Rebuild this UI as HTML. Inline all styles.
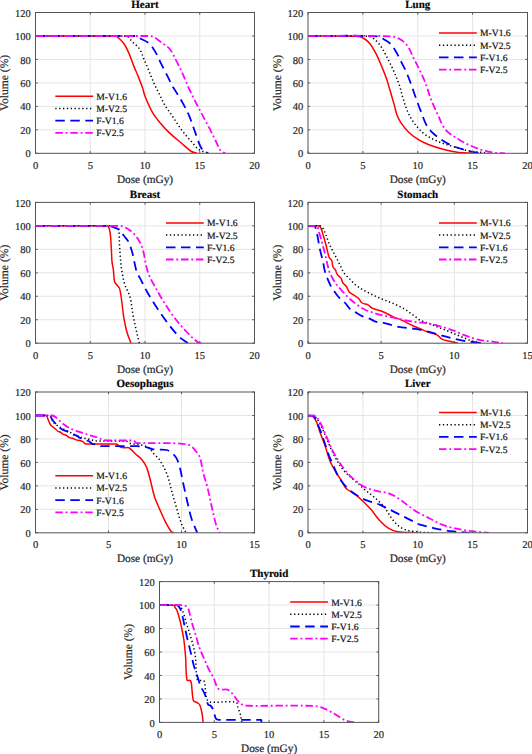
<!DOCTYPE html><html><head><meta charset="utf-8"><style>html,body{margin:0;padding:0;background:#fff;width:532px;height:754px;overflow:hidden}svg{display:block}text{font-family:"Liberation Serif", serif;text-rendering:geometricPrecision;stroke:#262626;stroke-width:0.2px}</style></head><body>
<svg width="532" height="754" viewBox="0 0 532 754">
<rect width="532" height="754" fill="#fff"/>
<line x1="90.25" y1="12.50" x2="90.25" y2="153.30" stroke="#e5e5e5" stroke-width="1"/>
<line x1="145.00" y1="12.50" x2="145.00" y2="153.30" stroke="#e5e5e5" stroke-width="1"/>
<line x1="199.75" y1="12.50" x2="199.75" y2="153.30" stroke="#e5e5e5" stroke-width="1"/>
<line x1="35.50" y1="129.83" x2="254.50" y2="129.83" stroke="#e5e5e5" stroke-width="1"/>
<line x1="35.50" y1="106.37" x2="254.50" y2="106.37" stroke="#e5e5e5" stroke-width="1"/>
<line x1="35.50" y1="82.90" x2="254.50" y2="82.90" stroke="#e5e5e5" stroke-width="1"/>
<line x1="35.50" y1="59.43" x2="254.50" y2="59.43" stroke="#e5e5e5" stroke-width="1"/>
<line x1="35.50" y1="35.97" x2="254.50" y2="35.97" stroke="#e5e5e5" stroke-width="1"/>
<clipPath id="clip_Heart"><rect x="35.50" y="10.50" width="219.00" height="142.80"/></clipPath>
<path d="M35.50,36.00 L114.80,36.00 C116.85,36.08 118.46,37.95 120.00,39.30 C121.72,40.81 123.27,42.57 124.50,44.50 C126.32,47.37 127.75,50.48 129.10,53.60 C130.79,57.52 132.01,61.63 133.60,65.60 C135.01,69.14 136.68,72.57 138.10,76.10 C139.68,80.04 141.22,83.99 142.60,88.00 C143.56,90.79 143.99,93.76 145.10,96.50 C147.33,102.02 149.65,107.53 152.60,112.70 C154.71,116.41 157.45,119.73 160.20,123.00 C163.26,126.65 166.54,130.12 170.00,133.40 C173.59,136.80 177.53,139.81 181.30,143.00 C184.66,145.84 187.72,149.09 191.40,151.50 C193.04,152.58 195.13,152.70 197.00,153.30" fill="none" stroke="#ff0000" stroke-width="1.50" stroke-linejoin="round" clip-path="url(#clip_Heart)"/>
<path d="M35.50,36.00 L126.00,36.00 C128.71,36.15 130.04,39.63 132.00,41.50 C134.57,43.96 137.62,46.04 139.60,49.00 C141.73,52.19 142.59,56.07 144.10,59.60 C145.59,63.10 147.13,66.59 148.60,70.10 C150.60,74.89 152.37,79.77 154.50,84.50 C156.24,88.35 158.32,92.02 160.20,95.80 C161.75,98.92 163.01,102.20 164.80,105.20 C166.76,108.49 169.25,111.43 171.40,114.60 C174.75,119.53 177.73,124.72 181.30,129.50 C184.81,134.20 188.71,138.61 192.60,143.00 C194.71,145.38 196.58,148.14 199.30,149.80 C202.37,151.67 206.10,152.13 209.50,153.30" fill="none" stroke="#000000" stroke-width="1.50" stroke-dasharray="1.3 2.55" stroke-linejoin="round" clip-path="url(#clip_Heart)"/>
<path d="M35.50,36.00 L135.00,36.00 C136.95,36.05 138.56,37.61 140.30,38.50 C143.10,39.94 146.20,40.97 148.60,43.00 C151.06,45.08 152.91,47.85 154.60,50.60 C156.94,54.41 158.59,58.61 160.60,62.60 C162.62,66.61 164.68,70.59 166.70,74.60 C168.71,78.59 170.58,82.66 172.70,86.60 C173.55,88.17 174.67,89.58 175.60,91.10 C177.90,94.85 180.29,98.55 182.40,102.40 C184.82,106.82 187.22,111.26 189.20,115.90 C191.57,121.45 193.32,127.24 195.40,132.90 C197.05,137.40 198.37,142.05 200.40,146.40 C201.20,148.10 202.38,149.66 203.80,150.90 C205.08,152.02 206.80,152.50 208.30,153.30" fill="none" stroke="#0000ff" stroke-width="1.80" stroke-dasharray="9.5 5.5" stroke-linejoin="round" clip-path="url(#clip_Heart)"/>
<path d="M35.50,36.00 L150.10,36.00 C154.72,36.26 158.24,40.44 162.10,43.00 C164.79,44.78 167.65,46.50 169.70,49.00 C172.27,52.14 173.80,56.01 175.70,59.60 C177.80,63.55 179.83,67.54 181.70,71.60 C184.50,77.67 186.86,83.94 189.70,90.00 C192.73,96.48 196.02,102.84 199.30,109.20 C202.22,114.87 205.36,120.44 208.30,126.10 C210.62,130.57 212.83,135.10 215.10,139.60 C217.00,143.37 218.28,147.52 220.80,150.90 C221.82,152.26 223.80,152.50 225.30,153.30" fill="none" stroke="#ff00ff" stroke-width="1.80" stroke-dasharray="7.5 2.8 1.9 2.8" stroke-linejoin="round" clip-path="url(#clip_Heart)"/>
<rect x="35.50" y="12.50" width="219.00" height="140.80" fill="none" stroke="#555555" stroke-width="1"/>
<line x1="35.50" y1="153.30" x2="35.50" y2="151.10" stroke="#555555" stroke-width="1"/>
<line x1="35.50" y1="12.50" x2="35.50" y2="14.70" stroke="#555555" stroke-width="1"/>
<text x="35.50" y="168.60" font-size="10.50" fill="#262626" text-anchor="middle">0</text>
<line x1="90.25" y1="153.30" x2="90.25" y2="151.10" stroke="#555555" stroke-width="1"/>
<line x1="90.25" y1="12.50" x2="90.25" y2="14.70" stroke="#555555" stroke-width="1"/>
<text x="90.25" y="168.60" font-size="10.50" fill="#262626" text-anchor="middle">5</text>
<line x1="145.00" y1="153.30" x2="145.00" y2="151.10" stroke="#555555" stroke-width="1"/>
<line x1="145.00" y1="12.50" x2="145.00" y2="14.70" stroke="#555555" stroke-width="1"/>
<text x="145.00" y="168.60" font-size="10.50" fill="#262626" text-anchor="middle">10</text>
<line x1="199.75" y1="153.30" x2="199.75" y2="151.10" stroke="#555555" stroke-width="1"/>
<line x1="199.75" y1="12.50" x2="199.75" y2="14.70" stroke="#555555" stroke-width="1"/>
<text x="199.75" y="168.60" font-size="10.50" fill="#262626" text-anchor="middle">15</text>
<line x1="254.50" y1="153.30" x2="254.50" y2="151.10" stroke="#555555" stroke-width="1"/>
<line x1="254.50" y1="12.50" x2="254.50" y2="14.70" stroke="#555555" stroke-width="1"/>
<text x="254.50" y="168.60" font-size="10.50" fill="#262626" text-anchor="middle">20</text>
<line x1="35.50" y1="153.30" x2="37.70" y2="153.30" stroke="#555555" stroke-width="1"/>
<line x1="254.50" y1="153.30" x2="252.30" y2="153.30" stroke="#555555" stroke-width="1"/>
<text x="30.70" y="157.40" font-size="10.50" fill="#262626" text-anchor="end">0</text>
<line x1="35.50" y1="129.83" x2="37.70" y2="129.83" stroke="#555555" stroke-width="1"/>
<line x1="254.50" y1="129.83" x2="252.30" y2="129.83" stroke="#555555" stroke-width="1"/>
<text x="30.70" y="133.93" font-size="10.50" fill="#262626" text-anchor="end">20</text>
<line x1="35.50" y1="106.37" x2="37.70" y2="106.37" stroke="#555555" stroke-width="1"/>
<line x1="254.50" y1="106.37" x2="252.30" y2="106.37" stroke="#555555" stroke-width="1"/>
<text x="30.70" y="110.47" font-size="10.50" fill="#262626" text-anchor="end">40</text>
<line x1="35.50" y1="82.90" x2="37.70" y2="82.90" stroke="#555555" stroke-width="1"/>
<line x1="254.50" y1="82.90" x2="252.30" y2="82.90" stroke="#555555" stroke-width="1"/>
<text x="30.70" y="87.00" font-size="10.50" fill="#262626" text-anchor="end">60</text>
<line x1="35.50" y1="59.43" x2="37.70" y2="59.43" stroke="#555555" stroke-width="1"/>
<line x1="254.50" y1="59.43" x2="252.30" y2="59.43" stroke="#555555" stroke-width="1"/>
<text x="30.70" y="63.53" font-size="10.50" fill="#262626" text-anchor="end">80</text>
<line x1="35.50" y1="35.97" x2="37.70" y2="35.97" stroke="#555555" stroke-width="1"/>
<line x1="254.50" y1="35.97" x2="252.30" y2="35.97" stroke="#555555" stroke-width="1"/>
<text x="30.70" y="40.07" font-size="10.50" fill="#262626" text-anchor="end">100</text>
<line x1="35.50" y1="12.50" x2="37.70" y2="12.50" stroke="#555555" stroke-width="1"/>
<line x1="254.50" y1="12.50" x2="252.30" y2="12.50" stroke="#555555" stroke-width="1"/>
<text x="30.70" y="16.60" font-size="10.50" fill="#262626" text-anchor="end">120</text>
<text x="145.00" y="182.90" font-size="11.30" fill="#262626" text-anchor="middle">Dose (mGy)</text>
<text transform="translate(8.30,82.90) rotate(-90)" font-size="11.60" fill="#262626" text-anchor="middle">Volume (%)</text>
<text x="145.00" y="7.80" font-size="11.00" fill="#000" font-weight="bold" text-anchor="middle">Heart</text>
<line x1="55.30" y1="96.30" x2="93.10" y2="96.30" stroke="#ff0000" stroke-width="1.50"/>
<text x="96.30" y="99.70" font-size="9.60" fill="#000">M-V1.6</text>
<line x1="55.30" y1="108.50" x2="93.10" y2="108.50" stroke="#000000" stroke-width="1.50" stroke-dasharray="1.3 2.55"/>
<text x="96.30" y="111.90" font-size="9.60" fill="#000">M-V2.5</text>
<line x1="55.30" y1="120.70" x2="93.10" y2="120.70" stroke="#0000ff" stroke-width="1.80" stroke-dasharray="9.5 5.5"/>
<text x="96.30" y="124.10" font-size="9.60" fill="#000">F-V1.6</text>
<line x1="55.30" y1="132.90" x2="93.10" y2="132.90" stroke="#ff00ff" stroke-width="1.80" stroke-dasharray="7.5 2.8 1.9 2.8"/>
<text x="96.30" y="136.30" font-size="9.60" fill="#000">F-V2.5</text>
<line x1="362.88" y1="12.50" x2="362.88" y2="153.30" stroke="#e5e5e5" stroke-width="1"/>
<line x1="417.75" y1="12.50" x2="417.75" y2="153.30" stroke="#e5e5e5" stroke-width="1"/>
<line x1="472.62" y1="12.50" x2="472.62" y2="153.30" stroke="#e5e5e5" stroke-width="1"/>
<line x1="308.00" y1="129.83" x2="527.50" y2="129.83" stroke="#e5e5e5" stroke-width="1"/>
<line x1="308.00" y1="106.37" x2="527.50" y2="106.37" stroke="#e5e5e5" stroke-width="1"/>
<line x1="308.00" y1="82.90" x2="527.50" y2="82.90" stroke="#e5e5e5" stroke-width="1"/>
<line x1="308.00" y1="59.43" x2="527.50" y2="59.43" stroke="#e5e5e5" stroke-width="1"/>
<line x1="308.00" y1="35.97" x2="527.50" y2="35.97" stroke="#e5e5e5" stroke-width="1"/>
<clipPath id="clip_Lung"><rect x="308.00" y="10.50" width="219.50" height="142.80"/></clipPath>
<path d="M308.00,36.10 C324.17,36.17 340.35,35.61 356.50,36.30 C359.10,36.41 361.72,37.23 364.00,38.50 C366.33,39.80 368.34,41.71 370.00,43.80 C372.38,46.80 374.25,50.19 376.00,53.60 C378.25,57.98 380.11,62.55 382.00,67.10 C383.64,71.06 385.21,75.05 386.60,79.10 C387.98,83.12 389.09,87.23 390.30,91.30 C391.59,95.66 392.87,100.02 394.10,104.40 C395.07,107.86 395.66,111.43 396.90,114.80 C397.87,117.43 399.14,119.97 400.70,122.30 C402.93,125.63 405.37,128.87 408.20,131.70 C411.03,134.53 414.21,137.06 417.60,139.20 C421.15,141.45 424.99,143.27 428.90,144.80 C433.78,146.71 438.82,148.21 443.90,149.50 C448.84,150.75 453.85,151.73 458.90,152.40 C463.40,153.00 467.97,153.00 472.50,153.30" fill="none" stroke="#ff0000" stroke-width="1.50" stroke-linejoin="round" clip-path="url(#clip_Lung)"/>
<path d="M308.00,36.10 C328.17,36.17 348.36,35.33 368.50,36.30 C370.73,36.41 372.76,37.90 374.50,39.30 C376.86,41.19 378.87,43.53 380.60,46.00 C382.93,49.33 384.70,53.01 386.60,56.60 C388.70,60.55 390.71,64.55 392.60,68.60 C394.21,72.05 395.69,75.56 397.10,79.10 C398.19,81.83 399.23,84.59 400.10,87.40 C401.07,90.53 401.61,93.78 402.60,96.90 C404.31,102.29 405.82,107.78 408.20,112.90 C410.21,117.23 412.76,121.34 415.70,125.10 C418.43,128.59 421.53,131.87 425.10,134.50 C429.04,137.40 433.51,139.57 438.00,141.50 C442.84,143.58 447.97,144.94 453.00,146.50 C457.64,147.94 462.23,149.59 467.00,150.50 C474.10,151.86 481.33,152.37 488.50,153.30" fill="none" stroke="#000000" stroke-width="1.50" stroke-dasharray="1.3 2.55" stroke-linejoin="round" clip-path="url(#clip_Lung)"/>
<path d="M308.00,36.10 C331.20,36.17 354.43,35.13 377.60,36.30 C380.38,36.44 382.72,38.55 385.10,40.00 C387.24,41.30 389.45,42.63 391.10,44.50 C393.50,47.22 395.28,50.46 397.10,53.60 C398.78,56.50 400.10,59.60 401.60,62.60 C403.10,65.60 404.76,68.52 406.10,71.60 C408.03,76.03 409.72,80.57 411.40,85.10 C412.62,88.37 413.62,91.72 414.80,95.00 C416.62,100.05 418.44,105.10 420.40,110.10 C422.51,115.47 424.11,121.10 427.00,126.10 C428.88,129.35 431.71,131.99 434.50,134.50 C437.21,136.95 440.33,138.91 443.40,140.90 C445.94,142.55 448.51,144.23 451.30,145.40 C455.67,147.24 460.25,148.55 464.80,149.90 C467.76,150.78 470.78,151.45 473.80,152.10 C476.05,152.58 478.33,152.90 480.60,153.30" fill="none" stroke="#0000ff" stroke-width="1.80" stroke-dasharray="9.5 5.5" stroke-linejoin="round" clip-path="url(#clip_Lung)"/>
<path d="M308.00,36.10 C335.70,36.17 363.42,35.34 391.10,36.30 C394.26,36.41 397.37,37.70 400.10,39.30 C402.99,41.00 405.64,43.28 407.60,46.00 C410.23,49.66 411.58,54.08 413.60,58.10 C415.61,62.11 417.75,66.06 419.70,70.10 C421.28,73.36 422.80,76.66 424.20,80.00 C425.30,82.63 426.26,85.31 427.20,88.00 C428.46,91.58 429.39,95.28 430.80,98.80 C433.09,104.52 435.70,110.11 438.30,115.70 C440.37,120.15 441.73,125.07 444.80,128.90 C447.78,132.62 452.04,135.14 456.00,137.80 C459.80,140.36 463.85,142.55 468.00,144.50 C472.54,146.63 477.20,148.56 482.00,150.00 C486.70,151.41 491.55,152.30 496.40,153.00 C499.24,153.41 502.13,153.20 505.00,153.30" fill="none" stroke="#ff00ff" stroke-width="1.80" stroke-dasharray="7.5 2.8 1.9 2.8" stroke-linejoin="round" clip-path="url(#clip_Lung)"/>
<rect x="308.00" y="12.50" width="219.50" height="140.80" fill="none" stroke="#555555" stroke-width="1"/>
<line x1="308.00" y1="153.30" x2="308.00" y2="151.10" stroke="#555555" stroke-width="1"/>
<line x1="308.00" y1="12.50" x2="308.00" y2="14.70" stroke="#555555" stroke-width="1"/>
<text x="308.00" y="168.60" font-size="10.50" fill="#262626" text-anchor="middle">0</text>
<line x1="362.88" y1="153.30" x2="362.88" y2="151.10" stroke="#555555" stroke-width="1"/>
<line x1="362.88" y1="12.50" x2="362.88" y2="14.70" stroke="#555555" stroke-width="1"/>
<text x="362.88" y="168.60" font-size="10.50" fill="#262626" text-anchor="middle">5</text>
<line x1="417.75" y1="153.30" x2="417.75" y2="151.10" stroke="#555555" stroke-width="1"/>
<line x1="417.75" y1="12.50" x2="417.75" y2="14.70" stroke="#555555" stroke-width="1"/>
<text x="417.75" y="168.60" font-size="10.50" fill="#262626" text-anchor="middle">10</text>
<line x1="472.62" y1="153.30" x2="472.62" y2="151.10" stroke="#555555" stroke-width="1"/>
<line x1="472.62" y1="12.50" x2="472.62" y2="14.70" stroke="#555555" stroke-width="1"/>
<text x="472.62" y="168.60" font-size="10.50" fill="#262626" text-anchor="middle">15</text>
<line x1="527.50" y1="153.30" x2="527.50" y2="151.10" stroke="#555555" stroke-width="1"/>
<line x1="527.50" y1="12.50" x2="527.50" y2="14.70" stroke="#555555" stroke-width="1"/>
<text x="527.50" y="168.60" font-size="10.50" fill="#262626" text-anchor="middle">20</text>
<line x1="308.00" y1="153.30" x2="310.20" y2="153.30" stroke="#555555" stroke-width="1"/>
<line x1="527.50" y1="153.30" x2="525.30" y2="153.30" stroke="#555555" stroke-width="1"/>
<text x="303.20" y="157.40" font-size="10.50" fill="#262626" text-anchor="end">0</text>
<line x1="308.00" y1="129.83" x2="310.20" y2="129.83" stroke="#555555" stroke-width="1"/>
<line x1="527.50" y1="129.83" x2="525.30" y2="129.83" stroke="#555555" stroke-width="1"/>
<text x="303.20" y="133.93" font-size="10.50" fill="#262626" text-anchor="end">20</text>
<line x1="308.00" y1="106.37" x2="310.20" y2="106.37" stroke="#555555" stroke-width="1"/>
<line x1="527.50" y1="106.37" x2="525.30" y2="106.37" stroke="#555555" stroke-width="1"/>
<text x="303.20" y="110.47" font-size="10.50" fill="#262626" text-anchor="end">40</text>
<line x1="308.00" y1="82.90" x2="310.20" y2="82.90" stroke="#555555" stroke-width="1"/>
<line x1="527.50" y1="82.90" x2="525.30" y2="82.90" stroke="#555555" stroke-width="1"/>
<text x="303.20" y="87.00" font-size="10.50" fill="#262626" text-anchor="end">60</text>
<line x1="308.00" y1="59.43" x2="310.20" y2="59.43" stroke="#555555" stroke-width="1"/>
<line x1="527.50" y1="59.43" x2="525.30" y2="59.43" stroke="#555555" stroke-width="1"/>
<text x="303.20" y="63.53" font-size="10.50" fill="#262626" text-anchor="end">80</text>
<line x1="308.00" y1="35.97" x2="310.20" y2="35.97" stroke="#555555" stroke-width="1"/>
<line x1="527.50" y1="35.97" x2="525.30" y2="35.97" stroke="#555555" stroke-width="1"/>
<text x="303.20" y="40.07" font-size="10.50" fill="#262626" text-anchor="end">100</text>
<line x1="308.00" y1="12.50" x2="310.20" y2="12.50" stroke="#555555" stroke-width="1"/>
<line x1="527.50" y1="12.50" x2="525.30" y2="12.50" stroke="#555555" stroke-width="1"/>
<text x="303.20" y="16.60" font-size="10.50" fill="#262626" text-anchor="end">120</text>
<text x="417.75" y="182.90" font-size="11.30" fill="#262626" text-anchor="middle">Dose (mGy)</text>
<text transform="translate(280.80,82.90) rotate(-90)" font-size="11.60" fill="#262626" text-anchor="middle">Volume (%)</text>
<text x="417.75" y="7.80" font-size="11.00" fill="#000" font-weight="bold" text-anchor="middle">Lung</text>
<line x1="439.00" y1="33.00" x2="476.80" y2="33.00" stroke="#ff0000" stroke-width="1.50"/>
<text x="480.00" y="36.40" font-size="9.60" fill="#000">M-V1.6</text>
<line x1="439.00" y1="45.20" x2="476.80" y2="45.20" stroke="#000000" stroke-width="1.50" stroke-dasharray="1.3 2.55"/>
<text x="480.00" y="48.60" font-size="9.60" fill="#000">M-V2.5</text>
<line x1="439.00" y1="57.40" x2="476.80" y2="57.40" stroke="#0000ff" stroke-width="1.80" stroke-dasharray="9.5 5.5"/>
<text x="480.00" y="60.80" font-size="9.60" fill="#000">F-V1.6</text>
<line x1="439.00" y1="69.60" x2="476.80" y2="69.60" stroke="#ff00ff" stroke-width="1.80" stroke-dasharray="7.5 2.8 1.9 2.8"/>
<text x="480.00" y="73.00" font-size="9.60" fill="#000">F-V2.5</text>
<line x1="90.25" y1="202.40" x2="90.25" y2="343.20" stroke="#e5e5e5" stroke-width="1"/>
<line x1="145.00" y1="202.40" x2="145.00" y2="343.20" stroke="#e5e5e5" stroke-width="1"/>
<line x1="199.75" y1="202.40" x2="199.75" y2="343.20" stroke="#e5e5e5" stroke-width="1"/>
<line x1="35.50" y1="319.73" x2="254.50" y2="319.73" stroke="#e5e5e5" stroke-width="1"/>
<line x1="35.50" y1="296.27" x2="254.50" y2="296.27" stroke="#e5e5e5" stroke-width="1"/>
<line x1="35.50" y1="272.80" x2="254.50" y2="272.80" stroke="#e5e5e5" stroke-width="1"/>
<line x1="35.50" y1="249.33" x2="254.50" y2="249.33" stroke="#e5e5e5" stroke-width="1"/>
<line x1="35.50" y1="225.87" x2="254.50" y2="225.87" stroke="#e5e5e5" stroke-width="1"/>
<clipPath id="clip_Breast"><rect x="35.50" y="200.40" width="219.00" height="142.80"/></clipPath>
<path d="M35.50,225.80 L106.80,225.80 C107.79,225.83 108.66,226.87 109.00,227.80 C109.95,230.41 110.19,233.24 110.50,236.00 C110.95,239.98 111.07,244.00 111.30,248.00 C111.57,252.53 111.57,257.08 112.00,261.60 C112.27,264.43 113.04,267.18 113.40,270.00 C113.88,273.79 113.70,277.67 114.50,281.40 C114.76,282.60 115.79,283.50 116.50,284.50 C117.49,285.90 119.09,286.97 119.60,288.60 C120.86,292.60 121.10,296.85 121.70,301.00 C122.50,306.52 122.88,312.10 123.80,317.60 C124.61,322.44 125.57,327.27 126.90,332.00 C127.98,335.83 129.63,339.47 131.00,343.20" fill="none" stroke="#ff0000" stroke-width="1.50" stroke-linejoin="round" clip-path="url(#clip_Breast)"/>
<path d="M35.50,225.80 L116.50,225.80 C118.09,225.88 118.55,228.42 118.80,230.00 C119.57,234.95 119.18,240.00 119.50,245.00 C119.92,251.54 120.33,258.08 121.00,264.60 C121.36,268.15 121.93,271.69 122.60,275.20 C123.20,278.33 123.78,281.48 124.80,284.50 C126.25,288.77 128.83,292.64 130.00,297.00 C131.62,303.04 131.95,309.35 133.10,315.50 C134.01,320.36 135.12,325.18 136.20,330.00 C137.19,334.41 138.27,338.80 139.30,343.20" fill="none" stroke="#000000" stroke-width="1.50" stroke-dasharray="1.3 2.55" stroke-linejoin="round" clip-path="url(#clip_Breast)"/>
<path d="M35.50,225.80 L109.00,225.80 C111.11,225.85 113.04,227.02 115.00,227.80 C116.55,228.42 118.26,228.88 119.50,230.00 C121.37,231.69 122.58,233.99 124.10,236.00 C125.61,237.99 127.49,239.76 128.60,242.00 C130.26,245.36 131.28,249.00 132.30,252.60 C133.28,256.05 133.79,259.61 134.60,263.10 C135.29,266.11 135.76,269.19 136.80,272.10 C137.57,274.26 138.93,276.17 140.00,278.20 C142.53,283.03 144.88,287.97 147.60,292.70 C150.85,298.34 154.30,303.87 157.90,309.30 C161.17,314.24 164.58,319.10 168.20,323.80 C171.49,328.08 174.76,332.41 178.60,336.20 C181.36,338.92 184.80,340.87 187.90,343.20" fill="none" stroke="#0000ff" stroke-width="1.80" stroke-dasharray="9.5 5.5" stroke-linejoin="round" clip-path="url(#clip_Breast)"/>
<path d="M35.50,225.80 L119.50,225.80 C122.19,225.88 124.77,227.16 127.10,228.50 C129.87,230.10 132.47,232.11 134.60,234.50 C137.02,237.21 138.98,240.35 140.60,243.60 C142.01,246.43 142.77,249.55 143.60,252.60 C144.27,255.06 144.57,257.61 145.10,260.10 C145.84,263.61 146.35,267.17 147.40,270.60 C148.36,273.73 149.72,276.73 151.10,279.70 C151.96,281.54 153.10,283.23 154.10,285.00 C156.74,289.67 159.17,294.45 162.00,299.00 C165.94,305.33 169.92,311.64 174.40,317.60 C178.21,322.66 182.41,327.43 186.80,332.00 C190.36,335.71 193.94,339.52 198.20,342.40 C199.65,343.38 201.67,342.93 203.40,343.20" fill="none" stroke="#ff00ff" stroke-width="1.80" stroke-dasharray="7.5 2.8 1.9 2.8" stroke-linejoin="round" clip-path="url(#clip_Breast)"/>
<rect x="35.50" y="202.40" width="219.00" height="140.80" fill="none" stroke="#555555" stroke-width="1"/>
<line x1="35.50" y1="343.20" x2="35.50" y2="341.00" stroke="#555555" stroke-width="1"/>
<line x1="35.50" y1="202.40" x2="35.50" y2="204.60" stroke="#555555" stroke-width="1"/>
<text x="35.50" y="358.50" font-size="10.50" fill="#262626" text-anchor="middle">0</text>
<line x1="90.25" y1="343.20" x2="90.25" y2="341.00" stroke="#555555" stroke-width="1"/>
<line x1="90.25" y1="202.40" x2="90.25" y2="204.60" stroke="#555555" stroke-width="1"/>
<text x="90.25" y="358.50" font-size="10.50" fill="#262626" text-anchor="middle">5</text>
<line x1="145.00" y1="343.20" x2="145.00" y2="341.00" stroke="#555555" stroke-width="1"/>
<line x1="145.00" y1="202.40" x2="145.00" y2="204.60" stroke="#555555" stroke-width="1"/>
<text x="145.00" y="358.50" font-size="10.50" fill="#262626" text-anchor="middle">10</text>
<line x1="199.75" y1="343.20" x2="199.75" y2="341.00" stroke="#555555" stroke-width="1"/>
<line x1="199.75" y1="202.40" x2="199.75" y2="204.60" stroke="#555555" stroke-width="1"/>
<text x="199.75" y="358.50" font-size="10.50" fill="#262626" text-anchor="middle">15</text>
<line x1="254.50" y1="343.20" x2="254.50" y2="341.00" stroke="#555555" stroke-width="1"/>
<line x1="254.50" y1="202.40" x2="254.50" y2="204.60" stroke="#555555" stroke-width="1"/>
<text x="254.50" y="358.50" font-size="10.50" fill="#262626" text-anchor="middle">20</text>
<line x1="35.50" y1="343.20" x2="37.70" y2="343.20" stroke="#555555" stroke-width="1"/>
<line x1="254.50" y1="343.20" x2="252.30" y2="343.20" stroke="#555555" stroke-width="1"/>
<text x="30.70" y="347.30" font-size="10.50" fill="#262626" text-anchor="end">0</text>
<line x1="35.50" y1="319.73" x2="37.70" y2="319.73" stroke="#555555" stroke-width="1"/>
<line x1="254.50" y1="319.73" x2="252.30" y2="319.73" stroke="#555555" stroke-width="1"/>
<text x="30.70" y="323.83" font-size="10.50" fill="#262626" text-anchor="end">20</text>
<line x1="35.50" y1="296.27" x2="37.70" y2="296.27" stroke="#555555" stroke-width="1"/>
<line x1="254.50" y1="296.27" x2="252.30" y2="296.27" stroke="#555555" stroke-width="1"/>
<text x="30.70" y="300.37" font-size="10.50" fill="#262626" text-anchor="end">40</text>
<line x1="35.50" y1="272.80" x2="37.70" y2="272.80" stroke="#555555" stroke-width="1"/>
<line x1="254.50" y1="272.80" x2="252.30" y2="272.80" stroke="#555555" stroke-width="1"/>
<text x="30.70" y="276.90" font-size="10.50" fill="#262626" text-anchor="end">60</text>
<line x1="35.50" y1="249.33" x2="37.70" y2="249.33" stroke="#555555" stroke-width="1"/>
<line x1="254.50" y1="249.33" x2="252.30" y2="249.33" stroke="#555555" stroke-width="1"/>
<text x="30.70" y="253.43" font-size="10.50" fill="#262626" text-anchor="end">80</text>
<line x1="35.50" y1="225.87" x2="37.70" y2="225.87" stroke="#555555" stroke-width="1"/>
<line x1="254.50" y1="225.87" x2="252.30" y2="225.87" stroke="#555555" stroke-width="1"/>
<text x="30.70" y="229.97" font-size="10.50" fill="#262626" text-anchor="end">100</text>
<line x1="35.50" y1="202.40" x2="37.70" y2="202.40" stroke="#555555" stroke-width="1"/>
<line x1="254.50" y1="202.40" x2="252.30" y2="202.40" stroke="#555555" stroke-width="1"/>
<text x="30.70" y="206.50" font-size="10.50" fill="#262626" text-anchor="end">120</text>
<text x="145.00" y="372.80" font-size="11.30" fill="#262626" text-anchor="middle">Dose (mGy)</text>
<text transform="translate(8.30,272.80) rotate(-90)" font-size="11.60" fill="#262626" text-anchor="middle">Volume (%)</text>
<text x="145.00" y="197.70" font-size="11.00" fill="#000" font-weight="bold" text-anchor="middle">Breast</text>
<line x1="166.00" y1="222.90" x2="203.80" y2="222.90" stroke="#ff0000" stroke-width="1.50"/>
<text x="207.00" y="226.30" font-size="9.60" fill="#000">M-V1.6</text>
<line x1="166.00" y1="235.10" x2="203.80" y2="235.10" stroke="#000000" stroke-width="1.50" stroke-dasharray="1.3 2.55"/>
<text x="207.00" y="238.50" font-size="9.60" fill="#000">M-V2.5</text>
<line x1="166.00" y1="247.30" x2="203.80" y2="247.30" stroke="#0000ff" stroke-width="1.80" stroke-dasharray="9.5 5.5"/>
<text x="207.00" y="250.70" font-size="9.60" fill="#000">F-V1.6</text>
<line x1="166.00" y1="259.50" x2="203.80" y2="259.50" stroke="#ff00ff" stroke-width="1.80" stroke-dasharray="7.5 2.8 1.9 2.8"/>
<text x="207.00" y="262.90" font-size="9.60" fill="#000">F-V2.5</text>
<line x1="381.17" y1="202.40" x2="381.17" y2="343.20" stroke="#e5e5e5" stroke-width="1"/>
<line x1="454.33" y1="202.40" x2="454.33" y2="343.20" stroke="#e5e5e5" stroke-width="1"/>
<line x1="308.00" y1="319.73" x2="527.50" y2="319.73" stroke="#e5e5e5" stroke-width="1"/>
<line x1="308.00" y1="296.27" x2="527.50" y2="296.27" stroke="#e5e5e5" stroke-width="1"/>
<line x1="308.00" y1="272.80" x2="527.50" y2="272.80" stroke="#e5e5e5" stroke-width="1"/>
<line x1="308.00" y1="249.33" x2="527.50" y2="249.33" stroke="#e5e5e5" stroke-width="1"/>
<line x1="308.00" y1="225.87" x2="527.50" y2="225.87" stroke="#e5e5e5" stroke-width="1"/>
<clipPath id="clip_Stomach"><rect x="308.00" y="200.40" width="219.50" height="142.80"/></clipPath>
<path d="M308.00,225.80 L318.50,225.80 C319.50,225.96 320.33,226.90 320.80,227.80 C321.88,229.89 322.32,232.25 323.00,234.50 C324.05,237.98 325.05,241.49 326.00,245.00 C327.12,249.15 327.72,253.46 329.20,257.50 C329.62,258.65 331.14,259.16 331.60,260.30 C332.44,262.39 332.18,264.81 333.00,266.90 C333.44,268.02 334.71,268.65 335.30,269.70 C336.13,271.17 336.26,273.00 337.20,274.40 C338.20,275.89 340.00,276.71 341.00,278.20 C341.94,279.60 341.97,281.49 342.90,282.90 C343.87,284.38 345.59,285.25 346.60,286.70 C347.79,288.42 348.06,290.70 349.40,292.30 C350.35,293.44 351.97,293.78 353.20,294.60 C355.07,295.85 357.07,296.96 358.70,298.50 C360.07,299.79 360.55,301.93 362.10,303.00 C363.71,304.11 365.96,303.82 367.70,304.70 C369.38,305.55 370.49,307.31 372.20,308.10 C375.45,309.60 379.10,310.11 382.40,311.50 C386.71,313.32 390.72,315.80 395.00,317.70 C396.80,318.50 398.80,318.79 400.60,319.60 C404.81,321.50 408.81,323.86 413.00,325.80 C415.28,326.86 417.68,327.63 420.00,328.60 C422.85,329.80 425.60,331.24 428.50,332.30 C431.24,333.31 434.29,333.49 436.90,334.80 C438.89,335.80 440.01,338.11 442.00,339.10 C444.64,340.42 447.64,340.87 450.50,341.60 C453.01,342.24 455.57,342.67 458.10,343.20" fill="none" stroke="#ff0000" stroke-width="1.50" stroke-linejoin="round" clip-path="url(#clip_Stomach)"/>
<path d="M308.00,225.80 L320.00,225.80 C322.29,226.59 323.40,229.34 324.50,231.50 C326.46,235.34 327.41,239.63 329.10,243.60 C330.24,246.27 331.67,248.81 333.00,251.40 C334.70,254.72 336.51,257.98 338.20,261.30 C340.11,265.05 341.47,269.10 343.80,272.60 C345.58,275.27 348.18,277.29 350.40,279.60 C352.25,281.52 353.91,283.65 356.00,285.30 C358.57,287.34 361.44,288.99 364.30,290.60 C367.61,292.46 371.06,294.07 374.50,295.70 C377.47,297.11 380.47,298.45 383.50,299.70 C386.83,301.08 390.31,302.12 393.60,303.60 C397.42,305.32 401.21,307.14 404.80,309.30 C408.39,311.46 411.69,314.07 415.10,316.50 C416.75,317.67 418.18,319.22 420.00,320.10 C423.26,321.67 426.84,322.47 430.20,323.80 C433.60,325.14 436.91,326.72 440.30,328.10 C443.11,329.25 445.99,330.25 448.80,331.40 C452.19,332.78 455.52,334.29 458.90,335.70 C462.29,337.12 465.64,338.65 469.10,339.90 C471.85,340.89 474.67,341.68 477.50,342.40 C478.98,342.78 480.50,342.93 482.00,343.20" fill="none" stroke="#000000" stroke-width="1.50" stroke-dasharray="1.3 2.55" stroke-linejoin="round" clip-path="url(#clip_Stomach)"/>
<path d="M308.00,225.80 L314.00,225.80 C315.42,226.52 315.81,228.48 316.30,230.00 C317.09,232.46 317.32,235.06 317.80,237.60 C318.55,241.60 319.14,245.63 320.00,249.60 C320.87,253.63 322.09,257.58 323.00,261.60 C323.75,264.91 323.98,268.36 325.00,271.60 C326.52,276.42 328.40,281.15 330.60,285.70 C331.75,288.08 333.45,290.16 335.00,292.30 C336.42,294.26 337.83,296.25 339.50,298.00 C341.24,299.83 343.46,301.17 345.20,303.00 C346.87,304.75 347.90,307.08 349.70,308.70 C351.32,310.16 353.42,311.00 355.30,312.10 C357.92,313.63 360.44,315.34 363.20,316.60 C365.37,317.59 367.80,317.89 370.00,318.80 C371.94,319.60 373.58,321.10 375.60,321.70 C378.15,322.46 380.90,322.26 383.50,322.80 C386.18,323.36 388.76,324.28 391.40,325.00 C393.80,325.65 396.15,326.50 398.60,326.90 C404.07,327.80 409.63,328.01 415.10,328.90 C420.11,329.71 425.08,330.76 430.00,332.00 C434.06,333.03 437.97,334.57 442.00,335.70 C445.91,336.80 449.85,337.78 453.80,338.70 C457.18,339.48 460.57,340.25 464.00,340.80 C469.05,341.61 474.12,342.22 479.20,342.80 C481.13,343.02 483.07,343.07 485.00,343.20" fill="none" stroke="#0000ff" stroke-width="1.80" stroke-dasharray="9.5 5.5" stroke-linejoin="round" clip-path="url(#clip_Stomach)"/>
<path d="M308.00,225.80 L316.30,225.80 C318.49,227.20 318.47,230.54 319.30,233.00 C320.47,236.48 321.33,240.06 322.30,243.60 C323.23,246.99 324.16,250.39 325.00,253.80 C325.69,256.59 326.20,259.41 326.90,262.20 C327.77,265.68 328.51,269.21 329.70,272.60 C330.39,274.57 331.44,276.40 332.50,278.20 C333.94,280.64 335.48,283.05 337.20,285.30 C338.95,287.59 340.92,289.70 342.90,291.80 C345.46,294.51 347.94,297.32 350.80,299.70 C354.73,302.97 358.71,306.26 363.20,308.70 C367.42,311.00 372.09,312.43 376.70,313.80 C382.24,315.44 387.95,316.47 393.60,317.70 C400.05,319.10 406.49,320.61 413.00,321.70 C418.70,322.65 424.51,322.82 430.20,323.80 C433.63,324.39 436.96,325.44 440.30,326.40 C444.83,327.70 449.37,328.98 453.80,330.60 C457.85,332.08 461.65,334.22 465.70,335.70 C470.13,337.32 474.60,338.89 479.20,339.90 C483.63,340.87 488.21,340.97 492.70,341.60 C496.11,342.07 499.50,342.67 502.90,343.20" fill="none" stroke="#ff00ff" stroke-width="1.80" stroke-dasharray="7.5 2.8 1.9 2.8" stroke-linejoin="round" clip-path="url(#clip_Stomach)"/>
<rect x="308.00" y="202.40" width="219.50" height="140.80" fill="none" stroke="#555555" stroke-width="1"/>
<line x1="308.00" y1="343.20" x2="308.00" y2="341.00" stroke="#555555" stroke-width="1"/>
<line x1="308.00" y1="202.40" x2="308.00" y2="204.60" stroke="#555555" stroke-width="1"/>
<text x="308.00" y="358.50" font-size="10.50" fill="#262626" text-anchor="middle">0</text>
<line x1="381.17" y1="343.20" x2="381.17" y2="341.00" stroke="#555555" stroke-width="1"/>
<line x1="381.17" y1="202.40" x2="381.17" y2="204.60" stroke="#555555" stroke-width="1"/>
<text x="381.17" y="358.50" font-size="10.50" fill="#262626" text-anchor="middle">5</text>
<line x1="454.33" y1="343.20" x2="454.33" y2="341.00" stroke="#555555" stroke-width="1"/>
<line x1="454.33" y1="202.40" x2="454.33" y2="204.60" stroke="#555555" stroke-width="1"/>
<text x="454.33" y="358.50" font-size="10.50" fill="#262626" text-anchor="middle">10</text>
<line x1="527.50" y1="343.20" x2="527.50" y2="341.00" stroke="#555555" stroke-width="1"/>
<line x1="527.50" y1="202.40" x2="527.50" y2="204.60" stroke="#555555" stroke-width="1"/>
<text x="527.50" y="358.50" font-size="10.50" fill="#262626" text-anchor="middle">15</text>
<line x1="308.00" y1="343.20" x2="310.20" y2="343.20" stroke="#555555" stroke-width="1"/>
<line x1="527.50" y1="343.20" x2="525.30" y2="343.20" stroke="#555555" stroke-width="1"/>
<text x="303.20" y="347.30" font-size="10.50" fill="#262626" text-anchor="end">0</text>
<line x1="308.00" y1="319.73" x2="310.20" y2="319.73" stroke="#555555" stroke-width="1"/>
<line x1="527.50" y1="319.73" x2="525.30" y2="319.73" stroke="#555555" stroke-width="1"/>
<text x="303.20" y="323.83" font-size="10.50" fill="#262626" text-anchor="end">20</text>
<line x1="308.00" y1="296.27" x2="310.20" y2="296.27" stroke="#555555" stroke-width="1"/>
<line x1="527.50" y1="296.27" x2="525.30" y2="296.27" stroke="#555555" stroke-width="1"/>
<text x="303.20" y="300.37" font-size="10.50" fill="#262626" text-anchor="end">40</text>
<line x1="308.00" y1="272.80" x2="310.20" y2="272.80" stroke="#555555" stroke-width="1"/>
<line x1="527.50" y1="272.80" x2="525.30" y2="272.80" stroke="#555555" stroke-width="1"/>
<text x="303.20" y="276.90" font-size="10.50" fill="#262626" text-anchor="end">60</text>
<line x1="308.00" y1="249.33" x2="310.20" y2="249.33" stroke="#555555" stroke-width="1"/>
<line x1="527.50" y1="249.33" x2="525.30" y2="249.33" stroke="#555555" stroke-width="1"/>
<text x="303.20" y="253.43" font-size="10.50" fill="#262626" text-anchor="end">80</text>
<line x1="308.00" y1="225.87" x2="310.20" y2="225.87" stroke="#555555" stroke-width="1"/>
<line x1="527.50" y1="225.87" x2="525.30" y2="225.87" stroke="#555555" stroke-width="1"/>
<text x="303.20" y="229.97" font-size="10.50" fill="#262626" text-anchor="end">100</text>
<line x1="308.00" y1="202.40" x2="310.20" y2="202.40" stroke="#555555" stroke-width="1"/>
<line x1="527.50" y1="202.40" x2="525.30" y2="202.40" stroke="#555555" stroke-width="1"/>
<text x="303.20" y="206.50" font-size="10.50" fill="#262626" text-anchor="end">120</text>
<text x="417.75" y="372.80" font-size="11.30" fill="#262626" text-anchor="middle">Dose (mGy)</text>
<text transform="translate(280.80,272.80) rotate(-90)" font-size="11.60" fill="#262626" text-anchor="middle">Volume (%)</text>
<text x="417.75" y="197.70" font-size="11.00" fill="#000" font-weight="bold" text-anchor="middle">Stomach</text>
<line x1="439.00" y1="222.90" x2="476.80" y2="222.90" stroke="#ff0000" stroke-width="1.50"/>
<text x="480.00" y="226.30" font-size="9.60" fill="#000">M-V1.6</text>
<line x1="439.00" y1="235.10" x2="476.80" y2="235.10" stroke="#000000" stroke-width="1.50" stroke-dasharray="1.3 2.55"/>
<text x="480.00" y="238.50" font-size="9.60" fill="#000">M-V2.5</text>
<line x1="439.00" y1="247.30" x2="476.80" y2="247.30" stroke="#0000ff" stroke-width="1.80" stroke-dasharray="9.5 5.5"/>
<text x="480.00" y="250.70" font-size="9.60" fill="#000">F-V1.6</text>
<line x1="439.00" y1="259.50" x2="476.80" y2="259.50" stroke="#ff00ff" stroke-width="1.80" stroke-dasharray="7.5 2.8 1.9 2.8"/>
<text x="480.00" y="262.90" font-size="9.60" fill="#000">F-V2.5</text>
<line x1="108.50" y1="392.00" x2="108.50" y2="532.80" stroke="#e5e5e5" stroke-width="1"/>
<line x1="181.50" y1="392.00" x2="181.50" y2="532.80" stroke="#e5e5e5" stroke-width="1"/>
<line x1="35.50" y1="509.33" x2="254.50" y2="509.33" stroke="#e5e5e5" stroke-width="1"/>
<line x1="35.50" y1="485.87" x2="254.50" y2="485.87" stroke="#e5e5e5" stroke-width="1"/>
<line x1="35.50" y1="462.40" x2="254.50" y2="462.40" stroke="#e5e5e5" stroke-width="1"/>
<line x1="35.50" y1="438.93" x2="254.50" y2="438.93" stroke="#e5e5e5" stroke-width="1"/>
<line x1="35.50" y1="415.47" x2="254.50" y2="415.47" stroke="#e5e5e5" stroke-width="1"/>
<clipPath id="clip_Oesophagus"><rect x="35.50" y="390.00" width="219.00" height="142.80"/></clipPath>
<path d="M35.50,415.50 L46.20,415.50 C47.45,415.85 47.36,417.82 47.90,419.00 C48.50,420.32 48.95,421.70 49.60,423.00 C50.09,423.98 50.58,424.97 51.30,425.80 C51.91,426.50 52.76,426.94 53.50,427.50 C54.26,428.07 55.08,428.58 55.80,429.20 C56.58,429.88 57.12,430.85 58.00,431.40 C58.67,431.82 59.62,431.59 60.30,432.00 C61.21,432.55 61.70,433.64 62.60,434.20 C63.25,434.60 64.09,434.53 64.80,434.80 C65.59,435.10 66.38,435.45 67.10,435.90 C67.89,436.39 68.44,437.25 69.30,437.60 C70.36,438.04 71.61,437.83 72.70,438.20 C73.90,438.61 74.89,439.51 76.10,439.90 C77.19,440.25 78.39,440.12 79.50,440.40 C80.67,440.69 81.85,441.01 82.90,441.60 C83.95,442.19 84.50,443.82 85.70,443.90 L116.00,443.90 C116.67,443.92 117.26,444.40 117.80,444.80 C118.81,445.54 119.39,446.98 120.60,447.30 C123.25,448.00 126.08,447.38 128.80,447.70 C129.26,447.75 129.66,448.09 130.00,448.40 C131.84,450.09 133.49,451.98 135.30,453.70 C137.42,455.71 139.94,457.34 141.80,459.60 C143.74,461.96 145.40,464.59 146.60,467.40 C148.15,471.01 148.98,474.90 150.00,478.70 C151.61,484.67 152.61,490.81 154.50,496.70 C155.99,501.34 158.15,505.73 160.10,510.20 C161.92,514.37 163.68,518.57 165.80,522.60 C167.46,525.75 169.15,528.94 171.40,531.70 C172.01,532.45 173.20,532.43 174.10,532.80" fill="none" stroke="#ff0000" stroke-width="1.50" stroke-linejoin="round" clip-path="url(#clip_Oesophagus)"/>
<path d="M35.50,415.50 L50.70,415.50 C53.02,416.39 52.02,420.41 53.50,422.40 C54.95,424.34 57.15,425.62 59.20,426.90 C61.70,428.46 64.46,429.58 67.10,430.90 C69.33,432.01 71.54,433.16 73.80,434.20 C76.41,435.40 78.97,436.72 81.70,437.60 C84.26,438.43 86.97,438.70 89.60,439.30 C91.77,439.80 93.87,440.78 96.10,440.90 C106.25,441.45 116.46,440.60 126.60,441.30 C127.78,441.38 128.46,442.88 129.60,443.20 C132.29,443.96 135.14,444.02 137.90,444.50 C140.11,444.89 142.37,445.10 144.50,445.80 C146.34,446.41 148.23,447.14 149.70,448.40 C151.38,449.84 152.24,452.04 153.70,453.70 C155.32,455.54 157.57,456.84 158.90,458.90 C162.01,463.71 164.76,468.79 166.90,474.10 C168.95,479.18 169.90,484.63 171.40,489.90 C172.90,495.17 174.34,500.45 175.90,505.70 C177.70,511.75 179.28,517.89 181.50,523.80 C182.69,526.95 184.57,529.80 186.10,532.80" fill="none" stroke="#000000" stroke-width="1.50" stroke-dasharray="1.3 2.55" stroke-linejoin="round" clip-path="url(#clip_Oesophagus)"/>
<path d="M35.50,415.50 L49.00,415.50 C49.71,415.56 50.28,416.22 50.70,416.80 C51.44,417.83 51.66,419.17 52.40,420.20 C53.18,421.27 54.30,422.03 55.20,423.00 C56.37,424.27 57.32,425.74 58.60,426.90 C59.81,427.99 61.16,428.94 62.60,429.70 C64.02,430.45 65.67,430.68 67.10,431.40 C68.68,432.19 69.99,433.48 71.60,434.20 C73.02,434.83 74.67,434.79 76.10,435.40 C77.34,435.93 78.29,437.00 79.50,437.60 C81.30,438.50 83.22,439.16 85.10,439.90 C86.59,440.49 88.19,440.84 89.60,441.60 C90.65,442.16 91.28,443.42 92.40,443.80 C94.44,444.49 96.72,444.12 98.80,444.70 C99.65,444.94 100.11,446.16 101.00,446.20 L136.60,446.20 C139.68,446.26 142.77,446.54 145.80,447.10 C148.06,447.51 150.14,448.69 152.40,449.10 C154.54,449.49 156.73,449.36 158.90,449.50 C161.53,449.66 164.25,449.32 166.80,450.00 C168.76,450.52 170.53,451.72 172.10,453.00 C173.67,454.29 175.06,455.85 176.10,457.60 C177.49,459.94 178.56,462.48 179.30,465.10 C180.77,470.28 181.55,475.64 182.70,480.90 C184.18,487.67 185.62,494.45 187.20,501.20 C188.62,507.25 189.81,513.38 191.70,519.30 C193.18,523.94 195.43,528.30 197.30,532.80" fill="none" stroke="#0000ff" stroke-width="1.80" stroke-dasharray="9.5 5.5" stroke-linejoin="round" clip-path="url(#clip_Oesophagus)"/>
<path d="M35.50,415.50 L52.40,415.50 C53.68,415.61 54.79,416.51 55.80,417.30 C58.21,419.19 60.20,421.59 62.60,423.50 C64.71,425.17 66.94,426.71 69.30,428.00 C71.46,429.18 73.78,430.06 76.10,430.90 C79.06,431.97 82.10,432.75 85.10,433.70 C87.37,434.42 89.61,435.23 91.90,435.90 C93.92,436.49 96.03,436.77 98.00,437.50 C99.58,438.08 100.87,439.39 102.50,439.80 C104.94,440.41 107.49,440.44 110.00,440.50 L133.50,440.50 C134.84,440.64 135.16,443.10 136.50,443.20 L169.50,443.20 C173.87,443.26 178.26,443.26 182.60,443.80 C185.30,444.13 188.12,444.49 190.50,445.80 C192.69,447.01 194.23,449.15 195.80,451.10 C197.42,453.11 199.16,455.16 200.00,457.60 C201.59,462.20 201.82,467.17 203.00,471.90 C204.32,477.21 206.18,482.39 207.50,487.70 C209.18,494.43 210.41,501.25 212.00,508.00 C213.41,514.02 214.62,520.11 216.50,526.00 C217.27,528.41 218.77,530.53 219.90,532.80" fill="none" stroke="#ff00ff" stroke-width="1.80" stroke-dasharray="7.5 2.8 1.9 2.8" stroke-linejoin="round" clip-path="url(#clip_Oesophagus)"/>
<rect x="35.50" y="392.00" width="219.00" height="140.80" fill="none" stroke="#555555" stroke-width="1"/>
<line x1="35.50" y1="532.80" x2="35.50" y2="530.60" stroke="#555555" stroke-width="1"/>
<line x1="35.50" y1="392.00" x2="35.50" y2="394.20" stroke="#555555" stroke-width="1"/>
<text x="35.50" y="548.10" font-size="10.50" fill="#262626" text-anchor="middle">0</text>
<line x1="108.50" y1="532.80" x2="108.50" y2="530.60" stroke="#555555" stroke-width="1"/>
<line x1="108.50" y1="392.00" x2="108.50" y2="394.20" stroke="#555555" stroke-width="1"/>
<text x="108.50" y="548.10" font-size="10.50" fill="#262626" text-anchor="middle">5</text>
<line x1="181.50" y1="532.80" x2="181.50" y2="530.60" stroke="#555555" stroke-width="1"/>
<line x1="181.50" y1="392.00" x2="181.50" y2="394.20" stroke="#555555" stroke-width="1"/>
<text x="181.50" y="548.10" font-size="10.50" fill="#262626" text-anchor="middle">10</text>
<line x1="254.50" y1="532.80" x2="254.50" y2="530.60" stroke="#555555" stroke-width="1"/>
<line x1="254.50" y1="392.00" x2="254.50" y2="394.20" stroke="#555555" stroke-width="1"/>
<text x="254.50" y="548.10" font-size="10.50" fill="#262626" text-anchor="middle">15</text>
<line x1="35.50" y1="532.80" x2="37.70" y2="532.80" stroke="#555555" stroke-width="1"/>
<line x1="254.50" y1="532.80" x2="252.30" y2="532.80" stroke="#555555" stroke-width="1"/>
<text x="30.70" y="536.90" font-size="10.50" fill="#262626" text-anchor="end">0</text>
<line x1="35.50" y1="509.33" x2="37.70" y2="509.33" stroke="#555555" stroke-width="1"/>
<line x1="254.50" y1="509.33" x2="252.30" y2="509.33" stroke="#555555" stroke-width="1"/>
<text x="30.70" y="513.43" font-size="10.50" fill="#262626" text-anchor="end">20</text>
<line x1="35.50" y1="485.87" x2="37.70" y2="485.87" stroke="#555555" stroke-width="1"/>
<line x1="254.50" y1="485.87" x2="252.30" y2="485.87" stroke="#555555" stroke-width="1"/>
<text x="30.70" y="489.97" font-size="10.50" fill="#262626" text-anchor="end">40</text>
<line x1="35.50" y1="462.40" x2="37.70" y2="462.40" stroke="#555555" stroke-width="1"/>
<line x1="254.50" y1="462.40" x2="252.30" y2="462.40" stroke="#555555" stroke-width="1"/>
<text x="30.70" y="466.50" font-size="10.50" fill="#262626" text-anchor="end">60</text>
<line x1="35.50" y1="438.93" x2="37.70" y2="438.93" stroke="#555555" stroke-width="1"/>
<line x1="254.50" y1="438.93" x2="252.30" y2="438.93" stroke="#555555" stroke-width="1"/>
<text x="30.70" y="443.03" font-size="10.50" fill="#262626" text-anchor="end">80</text>
<line x1="35.50" y1="415.47" x2="37.70" y2="415.47" stroke="#555555" stroke-width="1"/>
<line x1="254.50" y1="415.47" x2="252.30" y2="415.47" stroke="#555555" stroke-width="1"/>
<text x="30.70" y="419.57" font-size="10.50" fill="#262626" text-anchor="end">100</text>
<line x1="35.50" y1="392.00" x2="37.70" y2="392.00" stroke="#555555" stroke-width="1"/>
<line x1="254.50" y1="392.00" x2="252.30" y2="392.00" stroke="#555555" stroke-width="1"/>
<text x="30.70" y="396.10" font-size="10.50" fill="#262626" text-anchor="end">120</text>
<text x="145.00" y="562.40" font-size="11.30" fill="#262626" text-anchor="middle">Dose (mGy)</text>
<text transform="translate(8.30,462.40) rotate(-90)" font-size="11.60" fill="#262626" text-anchor="middle">Volume (%)</text>
<text x="145.00" y="387.30" font-size="11.00" fill="#000" font-weight="bold" text-anchor="middle">Oesophagus</text>
<line x1="55.30" y1="475.80" x2="93.10" y2="475.80" stroke="#ff0000" stroke-width="1.50"/>
<text x="96.30" y="479.20" font-size="9.60" fill="#000">M-V1.6</text>
<line x1="55.30" y1="488.00" x2="93.10" y2="488.00" stroke="#000000" stroke-width="1.50" stroke-dasharray="1.3 2.55"/>
<text x="96.30" y="491.40" font-size="9.60" fill="#000">M-V2.5</text>
<line x1="55.30" y1="500.20" x2="93.10" y2="500.20" stroke="#0000ff" stroke-width="1.80" stroke-dasharray="9.5 5.5"/>
<text x="96.30" y="503.60" font-size="9.60" fill="#000">F-V1.6</text>
<line x1="55.30" y1="512.40" x2="93.10" y2="512.40" stroke="#ff00ff" stroke-width="1.80" stroke-dasharray="7.5 2.8 1.9 2.8"/>
<text x="96.30" y="515.80" font-size="9.60" fill="#000">F-V2.5</text>
<line x1="362.88" y1="392.00" x2="362.88" y2="532.80" stroke="#e5e5e5" stroke-width="1"/>
<line x1="417.75" y1="392.00" x2="417.75" y2="532.80" stroke="#e5e5e5" stroke-width="1"/>
<line x1="472.62" y1="392.00" x2="472.62" y2="532.80" stroke="#e5e5e5" stroke-width="1"/>
<line x1="308.00" y1="509.33" x2="527.50" y2="509.33" stroke="#e5e5e5" stroke-width="1"/>
<line x1="308.00" y1="485.87" x2="527.50" y2="485.87" stroke="#e5e5e5" stroke-width="1"/>
<line x1="308.00" y1="462.40" x2="527.50" y2="462.40" stroke="#e5e5e5" stroke-width="1"/>
<line x1="308.00" y1="438.93" x2="527.50" y2="438.93" stroke="#e5e5e5" stroke-width="1"/>
<line x1="308.00" y1="415.47" x2="527.50" y2="415.47" stroke="#e5e5e5" stroke-width="1"/>
<clipPath id="clip_Liver"><rect x="308.00" y="390.00" width="219.50" height="142.80"/></clipPath>
<path d="M308.00,415.70 L312.30,415.70 C314.32,417.17 315.45,419.64 316.50,421.90 C318.01,425.15 318.69,428.73 319.90,432.10 C321.52,436.63 323.41,441.06 325.00,445.60 C326.78,450.69 327.97,456.00 330.00,461.00 C331.48,464.66 333.52,468.08 335.50,471.50 C337.19,474.42 339.24,477.12 341.00,480.00 C342.40,482.29 343.46,484.80 345.00,487.00 C345.81,488.16 346.83,489.20 348.00,490.00 C349.40,490.96 351.21,491.23 352.60,492.20 C355.00,493.88 357.16,495.89 359.30,497.90 C363.17,501.53 367.05,505.16 370.60,509.10 C373.83,512.68 376.30,516.90 379.60,520.40 C382.36,523.32 385.29,526.17 388.70,528.30 C391.42,530.00 394.54,531.17 397.70,531.70 C403.63,532.69 409.70,532.43 415.70,532.80" fill="none" stroke="#ff0000" stroke-width="1.50" stroke-linejoin="round" clip-path="url(#clip_Liver)"/>
<path d="M308.00,415.70 L314.00,415.70 C316.74,417.52 318.32,420.72 319.90,423.60 C322.57,428.46 324.44,433.73 326.70,438.80 C328.97,443.90 330.91,449.15 333.50,454.10 C336.19,459.24 339.01,464.37 342.50,469.00 C345.05,472.39 348.38,475.13 351.50,478.00 C353.82,480.13 356.43,481.92 358.80,484.00 C360.54,485.52 362.04,487.30 363.80,488.80 C367.48,491.94 371.49,494.68 375.10,497.90 C378.27,500.72 381.44,503.59 384.10,506.90 C387.50,511.13 389.70,516.26 393.20,520.40 C395.78,523.45 398.63,526.51 402.20,528.30 C406.35,530.38 411.11,531.05 415.70,531.70 C421.68,532.55 427.77,532.43 433.80,532.80" fill="none" stroke="#000000" stroke-width="1.50" stroke-dasharray="1.3 2.55" stroke-linejoin="round" clip-path="url(#clip_Liver)"/>
<path d="M308.00,415.70 L313.20,415.70 C315.83,418.17 316.75,421.99 318.20,425.30 C320.13,429.71 321.69,434.27 323.30,438.80 C325.09,443.87 326.51,449.07 328.40,454.10 C329.91,458.11 331.74,461.99 333.50,465.90 C335.27,469.83 336.69,473.96 339.00,477.60 C341.56,481.65 344.60,485.42 348.00,488.80 C350.68,491.47 353.89,493.59 357.10,495.60 C359.95,497.38 362.99,498.85 366.10,500.10 C370.50,501.86 375.19,502.85 379.60,504.60 C382.74,505.85 385.67,507.59 388.70,509.10 C391.70,510.59 394.70,512.09 397.70,513.60 C402.20,515.86 406.69,518.15 411.20,520.40 C414.12,521.85 416.93,523.60 420.00,524.70 C423.30,525.88 426.79,526.41 430.20,527.20 C434.12,528.11 438.03,529.09 442.00,529.80 C445.91,530.50 449.85,530.96 453.80,531.40 C458.89,531.96 464.00,532.33 469.10,532.80" fill="none" stroke="#0000ff" stroke-width="1.80" stroke-dasharray="9.5 5.5" stroke-linejoin="round" clip-path="url(#clip_Liver)"/>
<path d="M308.00,415.70 L314.80,415.70 C317.17,416.94 318.60,419.56 319.90,421.90 C322.60,426.75 324.44,432.03 326.70,437.10 C328.97,442.20 330.90,447.46 333.50,452.40 C335.97,457.09 338.82,461.58 341.90,465.90 C344.47,469.50 347.27,472.97 350.40,476.10 C353.50,479.20 356.98,481.90 360.50,484.50 C362.23,485.78 364.10,486.92 366.10,487.70 C369.76,489.13 373.58,490.15 377.40,491.10 C381.12,492.02 385.06,492.08 388.70,493.30 C391.89,494.37 394.85,496.11 397.70,497.90 C400.87,499.89 403.66,502.42 406.70,504.60 C410.43,507.28 414.06,510.13 418.00,512.50 C421.61,514.68 425.54,516.29 429.30,518.20 C433.54,520.35 437.59,522.92 442.00,524.70 C445.80,526.23 449.80,527.21 453.80,528.10 C459.42,529.35 465.10,530.35 470.80,531.10 C476.97,531.91 483.20,532.23 489.40,532.80" fill="none" stroke="#ff00ff" stroke-width="1.80" stroke-dasharray="7.5 2.8 1.9 2.8" stroke-linejoin="round" clip-path="url(#clip_Liver)"/>
<rect x="308.00" y="392.00" width="219.50" height="140.80" fill="none" stroke="#555555" stroke-width="1"/>
<line x1="308.00" y1="532.80" x2="308.00" y2="530.60" stroke="#555555" stroke-width="1"/>
<line x1="308.00" y1="392.00" x2="308.00" y2="394.20" stroke="#555555" stroke-width="1"/>
<text x="308.00" y="548.10" font-size="10.50" fill="#262626" text-anchor="middle">0</text>
<line x1="362.88" y1="532.80" x2="362.88" y2="530.60" stroke="#555555" stroke-width="1"/>
<line x1="362.88" y1="392.00" x2="362.88" y2="394.20" stroke="#555555" stroke-width="1"/>
<text x="362.88" y="548.10" font-size="10.50" fill="#262626" text-anchor="middle">5</text>
<line x1="417.75" y1="532.80" x2="417.75" y2="530.60" stroke="#555555" stroke-width="1"/>
<line x1="417.75" y1="392.00" x2="417.75" y2="394.20" stroke="#555555" stroke-width="1"/>
<text x="417.75" y="548.10" font-size="10.50" fill="#262626" text-anchor="middle">10</text>
<line x1="472.62" y1="532.80" x2="472.62" y2="530.60" stroke="#555555" stroke-width="1"/>
<line x1="472.62" y1="392.00" x2="472.62" y2="394.20" stroke="#555555" stroke-width="1"/>
<text x="472.62" y="548.10" font-size="10.50" fill="#262626" text-anchor="middle">15</text>
<line x1="527.50" y1="532.80" x2="527.50" y2="530.60" stroke="#555555" stroke-width="1"/>
<line x1="527.50" y1="392.00" x2="527.50" y2="394.20" stroke="#555555" stroke-width="1"/>
<text x="527.50" y="548.10" font-size="10.50" fill="#262626" text-anchor="middle">20</text>
<line x1="308.00" y1="532.80" x2="310.20" y2="532.80" stroke="#555555" stroke-width="1"/>
<line x1="527.50" y1="532.80" x2="525.30" y2="532.80" stroke="#555555" stroke-width="1"/>
<text x="303.20" y="536.90" font-size="10.50" fill="#262626" text-anchor="end">0</text>
<line x1="308.00" y1="509.33" x2="310.20" y2="509.33" stroke="#555555" stroke-width="1"/>
<line x1="527.50" y1="509.33" x2="525.30" y2="509.33" stroke="#555555" stroke-width="1"/>
<text x="303.20" y="513.43" font-size="10.50" fill="#262626" text-anchor="end">20</text>
<line x1="308.00" y1="485.87" x2="310.20" y2="485.87" stroke="#555555" stroke-width="1"/>
<line x1="527.50" y1="485.87" x2="525.30" y2="485.87" stroke="#555555" stroke-width="1"/>
<text x="303.20" y="489.97" font-size="10.50" fill="#262626" text-anchor="end">40</text>
<line x1="308.00" y1="462.40" x2="310.20" y2="462.40" stroke="#555555" stroke-width="1"/>
<line x1="527.50" y1="462.40" x2="525.30" y2="462.40" stroke="#555555" stroke-width="1"/>
<text x="303.20" y="466.50" font-size="10.50" fill="#262626" text-anchor="end">60</text>
<line x1="308.00" y1="438.93" x2="310.20" y2="438.93" stroke="#555555" stroke-width="1"/>
<line x1="527.50" y1="438.93" x2="525.30" y2="438.93" stroke="#555555" stroke-width="1"/>
<text x="303.20" y="443.03" font-size="10.50" fill="#262626" text-anchor="end">80</text>
<line x1="308.00" y1="415.47" x2="310.20" y2="415.47" stroke="#555555" stroke-width="1"/>
<line x1="527.50" y1="415.47" x2="525.30" y2="415.47" stroke="#555555" stroke-width="1"/>
<text x="303.20" y="419.57" font-size="10.50" fill="#262626" text-anchor="end">100</text>
<line x1="308.00" y1="392.00" x2="310.20" y2="392.00" stroke="#555555" stroke-width="1"/>
<line x1="527.50" y1="392.00" x2="525.30" y2="392.00" stroke="#555555" stroke-width="1"/>
<text x="303.20" y="396.10" font-size="10.50" fill="#262626" text-anchor="end">120</text>
<text x="417.75" y="562.40" font-size="11.30" fill="#262626" text-anchor="middle">Dose (mGy)</text>
<text transform="translate(280.80,462.40) rotate(-90)" font-size="11.60" fill="#262626" text-anchor="middle">Volume (%)</text>
<text x="417.75" y="387.30" font-size="11.00" fill="#000" font-weight="bold" text-anchor="middle">Liver</text>
<line x1="439.00" y1="412.50" x2="476.80" y2="412.50" stroke="#ff0000" stroke-width="1.50"/>
<text x="480.00" y="415.90" font-size="9.60" fill="#000">M-V1.6</text>
<line x1="439.00" y1="424.70" x2="476.80" y2="424.70" stroke="#000000" stroke-width="1.50" stroke-dasharray="1.3 2.55"/>
<text x="480.00" y="428.10" font-size="9.60" fill="#000">M-V2.5</text>
<line x1="439.00" y1="436.90" x2="476.80" y2="436.90" stroke="#0000ff" stroke-width="1.80" stroke-dasharray="9.5 5.5"/>
<text x="480.00" y="440.30" font-size="9.60" fill="#000">F-V1.6</text>
<line x1="439.00" y1="449.10" x2="476.80" y2="449.10" stroke="#ff00ff" stroke-width="1.80" stroke-dasharray="7.5 2.8 1.9 2.8"/>
<text x="480.00" y="452.50" font-size="9.60" fill="#000">F-V2.5</text>
<line x1="214.30" y1="581.60" x2="214.30" y2="722.40" stroke="#e5e5e5" stroke-width="1"/>
<line x1="269.10" y1="581.60" x2="269.10" y2="722.40" stroke="#e5e5e5" stroke-width="1"/>
<line x1="323.90" y1="581.60" x2="323.90" y2="722.40" stroke="#e5e5e5" stroke-width="1"/>
<line x1="159.50" y1="698.93" x2="378.70" y2="698.93" stroke="#e5e5e5" stroke-width="1"/>
<line x1="159.50" y1="675.47" x2="378.70" y2="675.47" stroke="#e5e5e5" stroke-width="1"/>
<line x1="159.50" y1="652.00" x2="378.70" y2="652.00" stroke="#e5e5e5" stroke-width="1"/>
<line x1="159.50" y1="628.53" x2="378.70" y2="628.53" stroke="#e5e5e5" stroke-width="1"/>
<line x1="159.50" y1="605.07" x2="378.70" y2="605.07" stroke="#e5e5e5" stroke-width="1"/>
<clipPath id="clip_Thyroid"><rect x="159.50" y="579.60" width="219.20" height="142.80"/></clipPath>
<path d="M159.50,605.20 L173.80,605.20 C174.79,605.36 174.77,606.95 175.30,607.80 C175.77,608.55 176.44,609.19 176.80,610.00 C177.45,611.44 177.84,612.99 178.30,614.50 C178.84,616.26 179.36,618.02 179.80,619.80 C180.60,623.05 181.33,626.32 182.00,629.60 C182.70,633.05 183.44,636.51 183.90,640.00 C184.64,645.61 185.16,651.26 185.60,656.90 C186.20,664.59 185.56,672.42 187.00,680.00 C187.20,681.03 189.22,679.93 190.10,680.50 C190.82,680.97 191.16,681.95 191.30,682.80 C192.30,688.76 191.85,694.99 193.50,700.80 C193.85,702.02 195.84,701.81 196.90,702.50 C197.91,703.15 199.18,703.71 199.70,704.80 C200.95,707.42 201.45,710.35 202.00,713.20 C202.59,716.23 202.73,719.33 203.10,722.40" fill="none" stroke="#ff0000" stroke-width="1.50" stroke-linejoin="round" clip-path="url(#clip_Thyroid)"/>
<path d="M159.50,605.20 L179.00,605.20 C181.37,605.84 181.87,609.23 182.80,611.50 C184.39,615.41 185.25,619.57 186.50,623.60 C187.75,627.61 189.09,631.58 190.30,635.60 C191.35,639.08 192.47,642.56 193.30,646.10 C194.24,650.10 195.14,654.12 195.60,658.20 C196.14,663.01 195.78,667.89 196.30,672.70 C196.58,675.35 196.18,678.56 198.00,680.50 L203.60,680.50 C205.43,682.48 204.84,685.75 205.30,688.40 C205.81,691.38 205.64,694.50 206.50,697.40 C207.00,699.09 207.56,701.62 209.30,701.90 C218.09,703.33 227.24,700.61 236.00,702.20 C237.72,702.51 237.30,705.45 237.90,707.10 C238.70,709.32 239.58,711.52 240.20,713.80 C240.71,715.67 240.95,717.60 241.30,719.50 C241.48,720.46 241.63,721.43 241.80,722.40" fill="none" stroke="#000000" stroke-width="1.50" stroke-dasharray="1.3 2.55" stroke-linejoin="round" clip-path="url(#clip_Thyroid)"/>
<path d="M159.50,605.20 L176.80,605.20 C178.61,605.55 179.70,607.64 180.50,609.30 C181.75,611.88 182.13,614.81 182.80,617.60 C183.63,621.08 184.25,624.60 185.00,628.10 C185.75,631.60 186.48,635.11 187.30,638.60 C188.38,643.21 189.58,647.80 190.70,652.40 C191.84,657.10 192.77,661.85 194.10,666.50 C195.41,671.06 197.14,675.49 198.60,680.00 C199.20,681.86 199.52,683.81 200.30,685.60 C201.40,688.13 203.05,690.39 204.20,692.90 C205.12,694.90 205.80,697.01 206.50,699.10 C207.13,700.98 207.17,703.11 208.20,704.80 C208.60,705.46 209.86,704.96 210.40,705.50 C211.61,706.71 212.54,708.22 213.20,709.80 C214.42,712.70 214.42,716.08 216.00,718.80 C216.53,719.71 217.95,719.78 219.00,719.80 L261.00,719.80 C261.87,719.85 261.20,721.53 261.30,722.40" fill="none" stroke="#0000ff" stroke-width="1.80" stroke-dasharray="9.5 5.5" stroke-linejoin="round" clip-path="url(#clip_Thyroid)"/>
<path d="M159.50,605.20 L182.00,605.20 C183.86,605.32 186.01,605.66 187.30,607.00 C188.78,608.54 188.90,610.96 189.50,613.00 C190.67,617.00 191.47,621.09 192.60,625.10 C193.74,629.13 195.10,633.09 196.30,637.10 C197.27,640.32 197.94,643.64 199.10,646.80 C200.78,651.39 202.86,655.82 204.80,660.30 C206.26,663.68 207.66,667.10 209.30,670.40 C210.46,672.74 212.09,674.83 213.20,677.20 C214.73,680.48 215.57,684.07 217.20,687.30 C217.67,688.23 218.39,689.26 219.40,689.50 C222.03,690.11 224.94,688.85 227.50,689.70 C229.59,690.40 231.10,692.29 232.60,693.90 C234.53,695.98 235.81,698.59 237.70,700.70 C239.09,702.25 240.71,703.59 242.40,704.80 C243.07,705.28 243.88,705.69 244.70,705.70 C267.63,706.05 290.57,705.28 313.50,705.90 C316.60,705.98 319.69,706.73 322.60,707.80 C326.28,709.15 329.67,711.20 333.10,713.10 C337.18,715.37 340.83,718.41 345.10,720.30 C347.92,721.55 351.10,721.70 354.10,722.40" fill="none" stroke="#ff00ff" stroke-width="1.80" stroke-dasharray="7.5 2.8 1.9 2.8" stroke-linejoin="round" clip-path="url(#clip_Thyroid)"/>
<rect x="159.50" y="581.60" width="219.20" height="140.80" fill="none" stroke="#555555" stroke-width="1"/>
<line x1="159.50" y1="722.40" x2="159.50" y2="720.20" stroke="#555555" stroke-width="1"/>
<line x1="159.50" y1="581.60" x2="159.50" y2="583.80" stroke="#555555" stroke-width="1"/>
<text x="159.50" y="737.70" font-size="10.50" fill="#262626" text-anchor="middle">0</text>
<line x1="214.30" y1="722.40" x2="214.30" y2="720.20" stroke="#555555" stroke-width="1"/>
<line x1="214.30" y1="581.60" x2="214.30" y2="583.80" stroke="#555555" stroke-width="1"/>
<text x="214.30" y="737.70" font-size="10.50" fill="#262626" text-anchor="middle">5</text>
<line x1="269.10" y1="722.40" x2="269.10" y2="720.20" stroke="#555555" stroke-width="1"/>
<line x1="269.10" y1="581.60" x2="269.10" y2="583.80" stroke="#555555" stroke-width="1"/>
<text x="269.10" y="737.70" font-size="10.50" fill="#262626" text-anchor="middle">10</text>
<line x1="323.90" y1="722.40" x2="323.90" y2="720.20" stroke="#555555" stroke-width="1"/>
<line x1="323.90" y1="581.60" x2="323.90" y2="583.80" stroke="#555555" stroke-width="1"/>
<text x="323.90" y="737.70" font-size="10.50" fill="#262626" text-anchor="middle">15</text>
<line x1="378.70" y1="722.40" x2="378.70" y2="720.20" stroke="#555555" stroke-width="1"/>
<line x1="378.70" y1="581.60" x2="378.70" y2="583.80" stroke="#555555" stroke-width="1"/>
<text x="378.70" y="737.70" font-size="10.50" fill="#262626" text-anchor="middle">20</text>
<line x1="159.50" y1="722.40" x2="161.70" y2="722.40" stroke="#555555" stroke-width="1"/>
<line x1="378.70" y1="722.40" x2="376.50" y2="722.40" stroke="#555555" stroke-width="1"/>
<text x="154.70" y="726.50" font-size="10.50" fill="#262626" text-anchor="end">0</text>
<line x1="159.50" y1="698.93" x2="161.70" y2="698.93" stroke="#555555" stroke-width="1"/>
<line x1="378.70" y1="698.93" x2="376.50" y2="698.93" stroke="#555555" stroke-width="1"/>
<text x="154.70" y="703.03" font-size="10.50" fill="#262626" text-anchor="end">20</text>
<line x1="159.50" y1="675.47" x2="161.70" y2="675.47" stroke="#555555" stroke-width="1"/>
<line x1="378.70" y1="675.47" x2="376.50" y2="675.47" stroke="#555555" stroke-width="1"/>
<text x="154.70" y="679.57" font-size="10.50" fill="#262626" text-anchor="end">40</text>
<line x1="159.50" y1="652.00" x2="161.70" y2="652.00" stroke="#555555" stroke-width="1"/>
<line x1="378.70" y1="652.00" x2="376.50" y2="652.00" stroke="#555555" stroke-width="1"/>
<text x="154.70" y="656.10" font-size="10.50" fill="#262626" text-anchor="end">60</text>
<line x1="159.50" y1="628.53" x2="161.70" y2="628.53" stroke="#555555" stroke-width="1"/>
<line x1="378.70" y1="628.53" x2="376.50" y2="628.53" stroke="#555555" stroke-width="1"/>
<text x="154.70" y="632.63" font-size="10.50" fill="#262626" text-anchor="end">80</text>
<line x1="159.50" y1="605.07" x2="161.70" y2="605.07" stroke="#555555" stroke-width="1"/>
<line x1="378.70" y1="605.07" x2="376.50" y2="605.07" stroke="#555555" stroke-width="1"/>
<text x="154.70" y="609.17" font-size="10.50" fill="#262626" text-anchor="end">100</text>
<line x1="159.50" y1="581.60" x2="161.70" y2="581.60" stroke="#555555" stroke-width="1"/>
<line x1="378.70" y1="581.60" x2="376.50" y2="581.60" stroke="#555555" stroke-width="1"/>
<text x="154.70" y="585.70" font-size="10.50" fill="#262626" text-anchor="end">120</text>
<text x="269.10" y="752.00" font-size="11.30" fill="#262626" text-anchor="middle">Dose (mGy)</text>
<text transform="translate(132.30,652.00) rotate(-90)" font-size="11.60" fill="#262626" text-anchor="middle">Volume (%)</text>
<text x="269.10" y="576.90" font-size="11.00" fill="#000" font-weight="bold" text-anchor="middle">Thyroid</text>
<line x1="290.20" y1="602.10" x2="328.00" y2="602.10" stroke="#ff0000" stroke-width="1.50"/>
<text x="331.20" y="605.50" font-size="9.60" fill="#000">M-V1.6</text>
<line x1="290.20" y1="614.30" x2="328.00" y2="614.30" stroke="#000000" stroke-width="1.50" stroke-dasharray="1.3 2.55"/>
<text x="331.20" y="617.70" font-size="9.60" fill="#000">M-V2.5</text>
<line x1="290.20" y1="626.50" x2="328.00" y2="626.50" stroke="#0000ff" stroke-width="1.80" stroke-dasharray="9.5 5.5"/>
<text x="331.20" y="629.90" font-size="9.60" fill="#000">F-V1.6</text>
<line x1="290.20" y1="638.70" x2="328.00" y2="638.70" stroke="#ff00ff" stroke-width="1.80" stroke-dasharray="7.5 2.8 1.9 2.8"/>
<text x="331.20" y="642.10" font-size="9.60" fill="#000">F-V2.5</text>
</svg></body></html>
